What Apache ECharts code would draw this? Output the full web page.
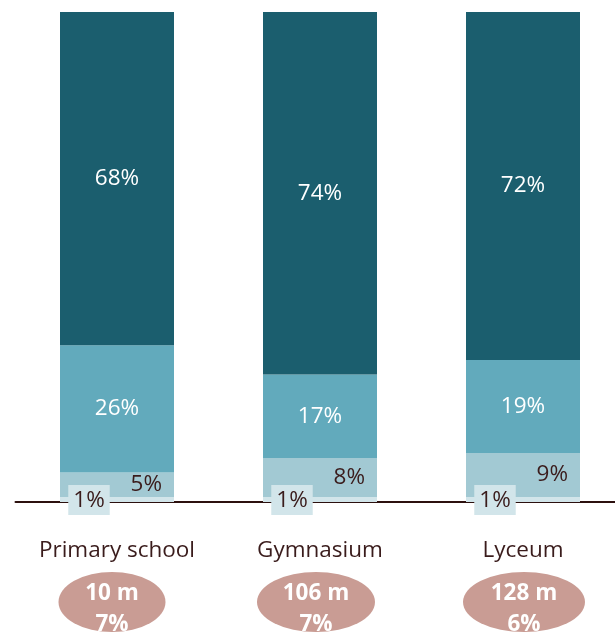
<!DOCTYPE html>
<html>
<head>
<meta charset="utf-8">
<script src="https://cdn.jsdelivr.net/npm/echarts@6/dist/echarts.min.js"></script>
<style>
  html, body { margin: 0; padding: 0; background: #ffffff; }
  #chart { width: 615px; height: 634px; }
</style>
</head>
<body>
<div id="chart"></div>
<script>
// School types
const categories = ['Primary school', 'Gymnasium', 'Lyceum'];

// Stacked shares (%), bottom segment first
const shareA = [1, 1, 1];
const shareB = [5, 8, 9];
const shareC = [26, 17, 19];
const shareD = [68, 74, 72];

// Total spend (millions) and its share for each school type
const spendMillions = [10, 106, 128];
const spendShare = [7, 7, 6];

const FONT = '"Open Sans", "Noto Sans", sans-serif';
const DARK_TEXT = '#3a1c1c';
const FS = 22.5;

// bubble shape tweaks (presentation only)
const bubbleWidth = [107, 118, 122];
const bubbleShift = [-5, -4, 1];

const chart = echarts.init(document.getElementById('chart'), null, { renderer: 'canvas' });

function whiteLabel() {
  return {
    show: true, position: 'inside', color: '#ffffff',
    fontFamily: FONT, fontSize: FS, formatter: '{c}%'
  };
}

const option = {
  animation: false,
  backgroundColor: '#ffffff',
  grid: [
    { left: 15.5, width: 609, top: 12, bottom: 132, containLabel: false, outerBoundsMode: 'none' },
    { left: 15.5, width: 609, top: 572, bottom: 2, containLabel: false, outerBoundsMode: 'none' }
  ],
  xAxis: [
    {
      type: 'category', gridIndex: 0, data: categories,
      axisLine: { show: true, lineStyle: { color: '#2c100e', width: 2 } },
      axisTick: { show: false },
      axisLabel: { interval: 0, color: DARK_TEXT, fontFamily: FONT, fontSize: FS, margin: 37 }
    },
    {
      type: 'category', gridIndex: 1, data: categories, show: false
    }
  ],
  yAxis: [
    { type: 'value', gridIndex: 0, min: 0, max: 100, show: false },
    { type: 'value', gridIndex: 1, min: 0, max: 1, show: false }
  ],
  series: [
    {
      name: 'a', type: 'bar', stack: 's', barWidth: 114, z: 4,
      data: shareA,
      itemStyle: { color: '#d2e5ea' },
      label: {
        show: true, position: [29, 3], align: 'center', verticalAlign: 'middle',
        color: DARK_TEXT, fontFamily: FONT, fontSize: FS, formatter: '{c}%',
        backgroundColor: '#d2e5ea', padding: [4, 5, 3, 5]
      }
    },
    {
      name: 'b', type: 'bar', stack: 's', barWidth: 114,
      data: shareB,
      itemStyle: { color: '#a2c9d3' },
      label: {
        show: true, position: 'insideRight', distance: 12,
        color: DARK_TEXT, fontFamily: FONT, fontSize: FS, formatter: '{c}%'
      }
    },
    {
      name: 'c', type: 'bar', stack: 's', barWidth: 114,
      data: shareC,
      itemStyle: { color: '#62aabc' },
      label: whiteLabel()
    },
    {
      name: 'd', type: 'bar', stack: 's', barWidth: 114, clip: true,
      data: shareD,
      itemStyle: { color: '#1b5e6e' },
      label: whiteLabel()
    },
    {
      name: 'spend', type: 'scatter', xAxisIndex: 1, yAxisIndex: 1,
      data: categories.map((c, i) => ({
        value: [c, 0.5],
        symbolSize: [bubbleWidth[i], 60],
        symbolOffset: [bubbleShift[i], 0],
        spend: spendMillions[i],
        share: spendShare[i]
      })),
      symbol: 'circle',
      itemStyle: { color: '#c99c94', opacity: 1 },
      label: {
        show: true, position: 'inside', offset: [0, 7],
        color: '#ffffff', fontFamily: FONT, fontSize: FS, fontWeight: 'bold',
        lineHeight: 31,
        formatter: (p) => spendMillions[p.dataIndex] + ' m\n' + spendShare[p.dataIndex] + '%'
      }
    }
  ]
};

chart.setOption(option);
</script>
</body>
</html>
